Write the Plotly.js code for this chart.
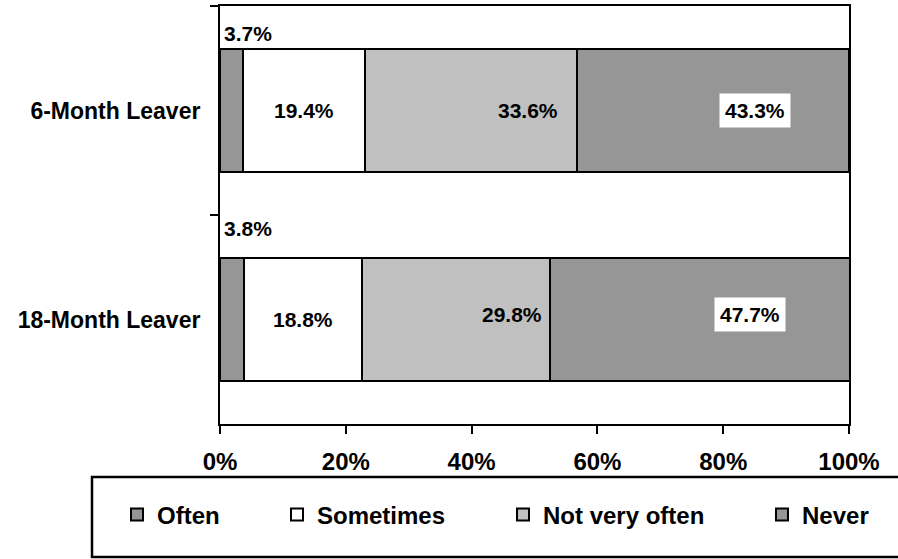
<!DOCTYPE html>
<html>
<head>
<meta charset="utf-8">
<script src="https://cdn.plot.ly/plotly-3.0.1.min.js"></script>
<style>
  html, body { margin: 0; padding: 0; background: #ffffff; }
  #chart { width: 898px; height: 559px; }
</style>
</head>
<body>
<div id="chart"></div>
<script>
// ---- data ----
const categories = ['6-Month Leaver', '18-Month Leaver'];
const seriesNames = ['Often', 'Sometimes', 'Not very often', 'Never'];
const often = [3.7, 3.8];
const sometimes = [19.4, 18.8];
const notVeryOften = [33.6, 29.8];
const never = [43.3, 47.7];
const xTickVals = [0, 20, 40, 60, 80, 100];
const xTickText = ['0%', '20%', '40%', '60%', '80%', '100%'];

// ---- styling / layout helpers ----
const FONT = 'Liberation Sans, Arial, Helvetica, sans-serif';
const seriesValues = [often, sometimes, notVeryOften, never];
const seriesColors = ['#969696', '#ffffff', '#c0c0c0', '#969696'];
const legendIds = ['legend', 'legend2', 'legend3', 'legend4'];
const legendMarkerPx = [137, 297, 523, 782];   // marker centre (pixels)
const PLOT_L = 220, PLOT_R = 849, PLOT_T = 6, PLOT_B = 424;
const W = 898, H = 559;
const pxToPaperX = px => (px - PLOT_L) / (PLOT_R - PLOT_L);
const pxToPaperY = py => (PLOT_B - py) / (PLOT_B - PLOT_T);

// label offsets in pixels [series][category] -> [xshift, yshift]
const labelOffsets = [
  [[0, 77], [0, 91]],
  [[0, 0], [0, 0]],
  [[57, 0], [56, 5]],
  [[42, 0], [50, 5]]
];

const traces = seriesNames.map((name, s) => ({
  type: 'bar',
  orientation: 'h',
  name: name,
  y: categories,
  x: seriesValues[s],
  marker: { color: seriesColors[s], line: { color: '#000000', width: 2 } },
  legend: legendIds[s],
  hoverinfo: 'x+y+name'
}));

const annotations = [];
categories.forEach((cat, c) => {
  let cum = 0;
  seriesValues.forEach((vals, s) => {
    const v = vals[c];
    const off = labelOffsets[s][c];
    const isOften = s === 0;
    const isNever = s === 3;
    annotations.push({
      xref: 'x', yref: 'y',
      x: isOften ? cum : cum + v / 2,
      y: cat,
      xanchor: isOften ? 'left' : 'center',
      yanchor: 'middle',
      xshift: isOften ? 3 : off[0],
      yshift: off[1],
      text: v.toFixed(1) + '%',
      showarrow: false,
      font: { family: FONT, size: 21, color: '#000000', weight: 'bold' },
      bgcolor: isNever ? '#ffffff' : 'rgba(0,0,0,0)',
      borderpad: isNever ? 5 : 0
    });
    cum += v;
  });
});

const legends = {};
legendIds.forEach((id, i) => {
  legends[id] = {
    x: pxToPaperX(legendMarkerPx[i] - 20),
    xanchor: 'left',
    y: pxToPaperY(515),
    yanchor: 'middle',
    orientation: 'h',
    bgcolor: 'rgba(0,0,0,0)',
    borderwidth: 0,
    font: { family: FONT, size: 24, color: '#000000', weight: 'bold' }
  };
});

const layout = Object.assign({
  width: W, height: H,
  margin: { l: PLOT_L, r: W - PLOT_R, t: PLOT_T, b: H - PLOT_B, pad: 0 },
  paper_bgcolor: '#ffffff',
  plot_bgcolor: '#ffffff',
  barmode: 'stack',
  bargap: 0.41,
  showlegend: true,
  font: { family: FONT, color: '#000000' },
  xaxis: {
    range: [0, 100],
    tickvals: xTickVals,
    ticktext: xTickText,
    ticks: 'outside', ticklen: 8, tickwidth: 2, tickcolor: '#000000',
    showline: true, linewidth: 2, linecolor: '#000000', mirror: true,
    showgrid: false, zeroline: false,
    ticklabelstandoff: 7,
    tickfont: { family: FONT, size: 24, color: '#000000', weight: 'bold' },
    fixedrange: true
  },
  yaxis: {
    type: 'category',
    categoryorder: 'array',
    categoryarray: categories,
    autorange: 'reversed',
    tickson: 'boundaries',
    ticks: 'outside', ticklen: 8, tickwidth: 2, tickcolor: '#000000',
    showline: true, linewidth: 2, linecolor: '#000000', mirror: true,
    showgrid: false, zeroline: false,
    ticklabelstandoff: 13,
    tickfont: { family: FONT, size: 23, color: '#000000', weight: 'bold' },
    fixedrange: true
  },
  annotations: annotations,
  shapes: [{
    type: 'rect', xref: 'paper', yref: 'paper',
    x0: pxToPaperX(92), x1: pxToPaperX(905),
    y0: pxToPaperY(557), y1: pxToPaperY(477),
    line: { color: '#000000', width: 2.5 },
    fillcolor: 'rgba(0,0,0,0)',
    layer: 'below'
  }]
}, legends);

Plotly.newPlot('chart', traces, layout, { displayModeBar: false, staticPlot: true });
</script>
</body>
</html>
